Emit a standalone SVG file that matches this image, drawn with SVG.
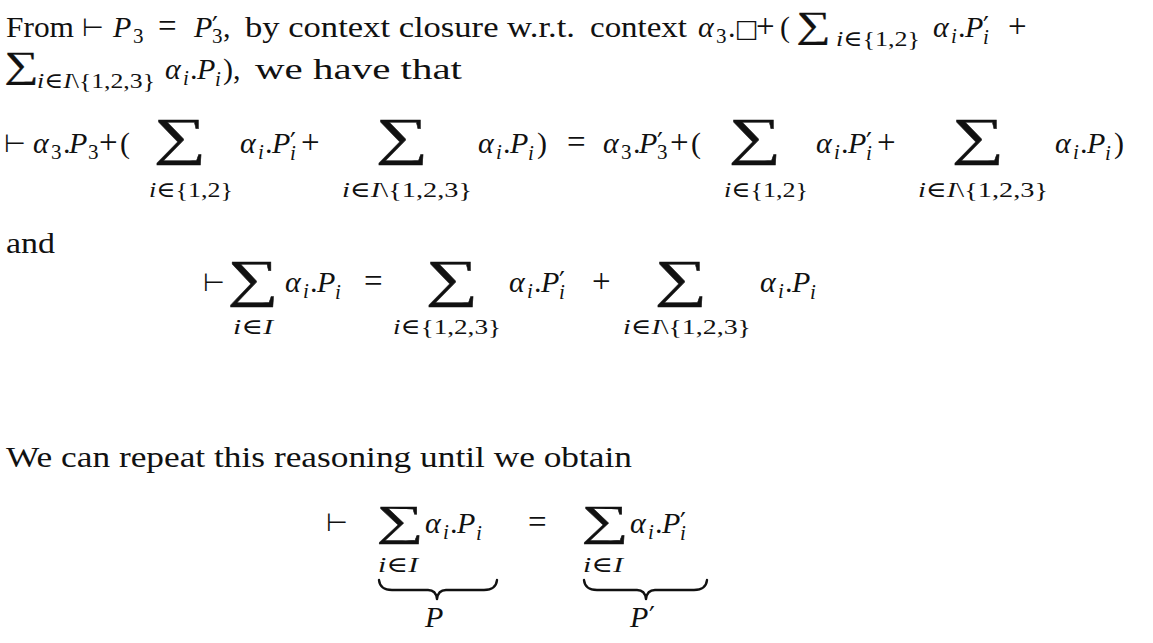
<svg xmlns="http://www.w3.org/2000/svg" width="1153" height="643" viewBox="0 0 1153 643">
<style>
.t{font-family:"Liberation Serif","DejaVu Serif",serif;font-size:30px;fill:#111}
.i{font-style:italic}
.s{font-size:21px}
.op{font-size:33px}
.pr{font-family:"DejaVu Sans",sans-serif;font-size:26px}
.sum{font-family:"Liberation Serif","DejaVu Serif",serif;font-size:52px;fill:#111;stroke:#111;stroke-width:0.4;text-anchor:middle}
.fsum{font-size:43px}
.tsum{font-family:"Liberation Serif","DejaVu Serif",serif;font-size:37px;fill:#111;stroke:#111;stroke-width:0.3}
.lim{font-family:"Liberation Serif","DejaVu Serif",serif;font-size:22px;fill:#111;text-anchor:middle}
.sub{font-family:"Liberation Serif","DejaVu Serif",serif;font-size:22px;fill:#111}
.vd{font-family:"DejaVu Sans",sans-serif;font-size:25px;fill:#111}
.br{fill:none;stroke:#111;stroke-width:2.4;stroke-linecap:round;stroke-linejoin:round}
</style>
<rect width="1153" height="643" fill="#fff"/>

<g id="line1">
<text class="t" x="6" y="37" textLength="68" lengthAdjust="spacingAndGlyphs">From</text>
<text class="vd" x="82" y="36">⊢</text>
<text class="t"><tspan class="i" x="113" y="37">P</tspan><tspan class="s" x="133" y="43">3</tspan></text>
<text class="t op" x="158" y="37">=</text>
<text class="t"><tspan class="i" x="194" y="37">P</tspan><tspan class="pr" x="212" y="36">′</tspan><tspan class="s" x="212" y="43">3</tspan><tspan x="223" y="37">,</tspan></text>
<text class="t" x="245" y="37" textLength="330" lengthAdjust="spacingAndGlyphs">by context closure w.r.t.</text>
<text class="t" x="590" y="37" textLength="97" lengthAdjust="spacingAndGlyphs">context</text>
<text class="t"><tspan class="i" x="698" y="37">α</tspan><tspan class="s" x="716" y="43">3</tspan><tspan x="728" y="37">.</tspan></text>
<text class="vd" x="735" y="37">□</text>
<text class="t op" x="756" y="37">+</text>
<text class="t" x="780" y="37">(</text>
<text class="tsum" transform="translate(796,37) scale(1.3,1)" x="0" y="0">∑</text>
<text class="sub" x="836" y="46" textLength="84" lengthAdjust="spacingAndGlyphs"><tspan class="i">i</tspan>∈{1,2}</text>
<text class="t"><tspan class="i" x="933" y="37">α</tspan><tspan class="s i" x="951" y="43">i</tspan><tspan x="958" y="37">.</tspan><tspan class="i" x="965" y="37">P</tspan><tspan class="pr" x="983" y="36">′</tspan><tspan class="s i" x="983" y="44">i</tspan></text>
<text class="t op" x="1008" y="37">+</text>
</g>

<g id="line2">
<text class="tsum" transform="translate(4,77) scale(1.3,1)" x="0" y="0">∑</text>
<text class="sub" x="37" y="88" textLength="118" lengthAdjust="spacingAndGlyphs"><tspan class="i">i</tspan>∈<tspan class="i">I</tspan>\{1,2,3}</text>
<text class="t"><tspan class="i" x="165" y="79">α</tspan><tspan class="s i" x="183" y="85">i</tspan><tspan x="190" y="79">.</tspan><tspan class="i" x="197" y="79">P</tspan><tspan class="s i" x="215" y="86">i</tspan><tspan x="223" y="79">),</tspan></text>
<text class="t" x="255" y="79" textLength="207" lengthAdjust="spacingAndGlyphs">we have that</text>
</g>

<g id="line3">
<text class="vd" x="4" y="152">⊢</text>
<text class="t"><tspan class="i" x="33" y="153">α</tspan><tspan class="s" x="51" y="159">3</tspan><tspan x="63" y="153">.</tspan><tspan class="i" x="69" y="153">P</tspan><tspan class="s" x="88" y="159">3</tspan></text>
<text class="t op" x="99" y="153">+</text><text class="t" x="120" y="153">(</text>
<text class="sum" transform="translate(180,154) scale(1.42,1)" x="0" y="0">∑</text>
<text class="lim" x="191" y="197" textLength="84" lengthAdjust="spacingAndGlyphs"><tspan class="i">i</tspan>∈{1,2}</text>
<text class="t"><tspan class="i" x="240" y="153">α</tspan><tspan class="s i" x="258" y="159">i</tspan><tspan x="265" y="153">.</tspan><tspan class="i" x="272" y="153">P</tspan><tspan class="pr" x="290" y="152">′</tspan><tspan class="s i" x="290" y="160">i</tspan></text>
<text class="t op" x="301" y="153">+</text>
<text class="sum" transform="translate(402,154) scale(1.42,1)" x="0" y="0">∑</text>
<text class="lim" x="407" y="197" textLength="130" lengthAdjust="spacingAndGlyphs"><tspan class="i">i</tspan>∈<tspan class="i">I</tspan>\{1,2,3}</text>
<text class="t"><tspan class="i" x="478" y="153">α</tspan><tspan class="s i" x="496" y="159">i</tspan><tspan x="503" y="153">.</tspan><tspan class="i" x="510" y="153">P</tspan><tspan class="s i" x="528" y="160">i</tspan><tspan x="537" y="153">)</tspan></text>
<text class="t op" x="567" y="153">=</text>
<text class="t"><tspan class="i" x="603" y="153">α</tspan><tspan class="s" x="621" y="159">3</tspan><tspan x="633" y="153">.</tspan><tspan class="i" x="639" y="153">P</tspan><tspan class="pr" x="657" y="152">′</tspan><tspan class="s" x="657" y="159">3</tspan></text>
<text class="t op" x="670" y="153">+</text><text class="t" x="691" y="153">(</text>
<text class="sum" transform="translate(755,154) scale(1.42,1)" x="0" y="0">∑</text>
<text class="lim" x="766" y="197" textLength="84" lengthAdjust="spacingAndGlyphs"><tspan class="i">i</tspan>∈{1,2}</text>
<text class="t"><tspan class="i" x="816" y="153">α</tspan><tspan class="s i" x="834" y="159">i</tspan><tspan x="841" y="153">.</tspan><tspan class="i" x="848" y="153">P</tspan><tspan class="pr" x="866" y="152">′</tspan><tspan class="s i" x="866" y="160">i</tspan></text>
<text class="t op" x="877" y="153">+</text>
<text class="sum" transform="translate(978,154) scale(1.42,1)" x="0" y="0">∑</text>
<text class="lim" x="983" y="197" textLength="130" lengthAdjust="spacingAndGlyphs"><tspan class="i">i</tspan>∈<tspan class="i">I</tspan>\{1,2,3}</text>
<text class="t"><tspan class="i" x="1055" y="153">α</tspan><tspan class="s i" x="1073" y="159">i</tspan><tspan x="1080" y="153">.</tspan><tspan class="i" x="1087" y="153">P</tspan><tspan class="s i" x="1105" y="160">i</tspan><tspan x="1114" y="153">)</tspan></text>
</g>

<g id="line-and">
<text class="t" x="6" y="253" textLength="49" lengthAdjust="spacingAndGlyphs">and</text>
</g>

<g id="line4">
<text class="vd" x="203" y="291">⊢</text>
<text class="sum" transform="translate(253,296) scale(1.38,1)" x="0" y="0">∑</text>
<text class="lim" x="253" y="334" textLength="40" lengthAdjust="spacingAndGlyphs"><tspan class="i">i</tspan>∈<tspan class="i">I</tspan></text>
<text class="t"><tspan class="i" x="285" y="292">α</tspan><tspan class="s i" x="303" y="298">i</tspan><tspan x="310" y="292">.</tspan><tspan class="i" x="317" y="292">P</tspan><tspan class="s i" x="335" y="299">i</tspan></text>
<text class="t op" x="364" y="292">=</text>
<text class="sum" transform="translate(452,296) scale(1.42,1)" x="0" y="0">∑</text>
<text class="lim" x="447" y="334" textLength="108" lengthAdjust="spacingAndGlyphs"><tspan class="i">i</tspan>∈{1,2,3}</text>
<text class="t"><tspan class="i" x="509" y="292">α</tspan><tspan class="s i" x="527" y="298">i</tspan><tspan x="534" y="292">.</tspan><tspan class="i" x="541" y="292">P</tspan><tspan class="pr" x="559" y="291">′</tspan><tspan class="s i" x="559" y="299">i</tspan></text>
<text class="t op" x="592" y="292">+</text>
<text class="sum" transform="translate(681,296) scale(1.42,1)" x="0" y="0">∑</text>
<text class="lim" x="687" y="334" textLength="128" lengthAdjust="spacingAndGlyphs"><tspan class="i">i</tspan>∈<tspan class="i">I</tspan>\{1,2,3}</text>
<text class="t"><tspan class="i" x="760" y="292">α</tspan><tspan class="s i" x="778" y="298">i</tspan><tspan x="785" y="292">.</tspan><tspan class="i" x="792" y="292">P</tspan><tspan class="s i" x="810" y="299">i</tspan></text>
</g>

<g id="line-repeat">
<text class="t" x="6" y="467" textLength="626" lengthAdjust="spacingAndGlyphs">We can repeat this reasoning until we obtain</text>
</g>

<g id="line5">
<text class="vd" x="326" y="531">⊢</text>
<text class="sum fsum" transform="translate(400,535) scale(1.55,1)" x="0" y="0">∑</text>
<text class="lim" x="398" y="572" textLength="40" lengthAdjust="spacingAndGlyphs"><tspan class="i">i</tspan>∈<tspan class="i">I</tspan></text>
<text class="t"><tspan class="i" x="425" y="533">α</tspan><tspan class="s i" x="443" y="539">i</tspan><tspan x="450" y="533">.</tspan><tspan class="i" x="457" y="533">P</tspan><tspan class="s i" x="476" y="540">i</tspan></text>
<text class="t op" x="528" y="533">=</text>
<text class="sum fsum" transform="translate(605,535) scale(1.55,1)" x="0" y="0">∑</text>
<text class="lim" x="603" y="572" textLength="40" lengthAdjust="spacingAndGlyphs"><tspan class="i">i</tspan>∈<tspan class="i">I</tspan></text>
<text class="t"><tspan class="i" x="630" y="533">α</tspan><tspan class="s i" x="648" y="539">i</tspan><tspan x="655" y="533">.</tspan><tspan class="i" x="662" y="533">P</tspan><tspan class="pr" x="680" y="532">′</tspan><tspan class="s i" x="680" y="540">i</tspan></text>
<path class="br" d="M379,580 Q380,590 392,590 L428,590 Q436,590 437,599 Q438,590 446,590 L484,590 Q496,590 497,580"/>
<path class="br" d="M584,580 Q585,590 597,590 L637,590 Q645,590 646,599 Q647,590 655,590 L694,590 Q706,590 707,580"/>
<text class="t i" x="425" y="627">P</text>
<text class="t"><tspan class="i" x="630" y="627">P</tspan><tspan class="pr" x="649" y="626">′</tspan></text>
</g>
</svg>
